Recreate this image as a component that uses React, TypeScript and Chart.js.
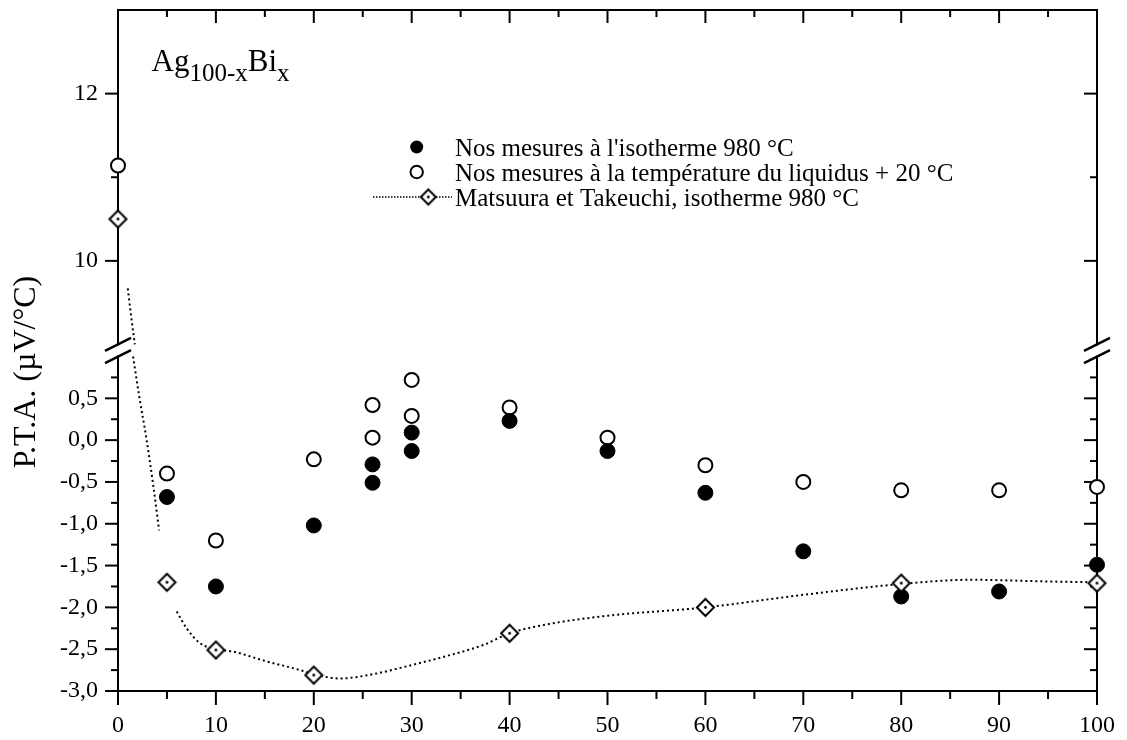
import React, { useEffect, useRef } from "react";
import { Chart, registerables } from "chart.js";

Chart.register(...registerables);

const SERIF = '"Liberation Serif", "Times New Roman", Times, serif';

// ---- axis ticks ----
const xMajorTicks = [0, 10, 20, 30, 40, 50, 60, 70, 80, 90, 100];
const xMinorTicks = [5, 15, 25, 35, 45, 55, 65, 75, 85, 95];
const yLowMajorTicks = [-3, -2.5, -2, -1.5, -1, -0.5, 0, 0.5];
const yLowMinorTicks = [-2.75, -2.25, -1.75, -1.25, -0.75, -0.25, 0.25, 0.75];
const yTopMajorTicks = [10, 12];
const yTopMinorTicks = [11];

// axis break: lower part ends at 1, upper part starts at 9
const yLowRange = [-3, 1.072];
const yTopRange = [8.928, 13];
const breakLowValue = 1;
const breakTopValue = 9;

const yTitle = "P.T.A. (µV/°C)";
const alloyMain = ["Ag", "Bi"];
const alloySub = ["100-x", "x"];

const seriesLabels = [
  "Nos mesures à l'isotherme 980 °C",
  "Nos mesures à la température du liquidus + 20 °C",
  "Matsuura et Takeuchi, isotherme 980 °C",
];

// ---- series: filled circles (isotherme 980 °C) ----
const isoX = [5, 10, 20, 26, 26, 30, 30, 40, 50, 60, 70, 80, 90, 100];
const isoY = [-0.68, -1.75, -1.02, -0.29, -0.51, 0.09, -0.13, 0.23, -0.13, -0.63, -1.33, -1.87, -1.81, -1.49];

// ---- series: open circles (liquidus + 20 °C) ----
const liqX = [5, 10, 20, 26, 26, 30, 30, 40, 50, 60, 70, 80, 90, 100];
const liqY = [-0.4, -1.2, -0.23, 0.42, 0.03, 0.72, 0.29, 0.39, 0.03, -0.3, -0.5, -0.6, -0.6, -0.56];
const liqHighX = [0];
const liqHighY = [11.14];

// ---- series: diamonds (Matsuura et Takeuchi) ----
const matX = [5, 10, 20, 40, 60, 80, 100];
const matY = [-1.7, -2.51, -2.81, -2.31, -2.0, -1.71, -1.71];
const matHighX = [0];
const matHighY = [10.5];

// ---- dotted curve (Matsuura et Takeuchi) ----
const curveHighX = [1.0, 1.35, 1.72];
const curveHighY = [9.67, 9.33, 9.0];
const curveFallX = [1.54, 2.2, 2.9, 3.6, 4.2];
const curveFallY = [1.0, 0.5, 0.02, -0.54, -1.08];
const curveMainX = [6.0, 7.0, 8.4, 10, 11.8, 15, 18.6, 20, 22.7, 26, 30, 33, 37.3, 40, 43.5, 50, 60, 70, 80, 87, 95, 100];
const curveMainY = [-2.05, -2.25, -2.43, -2.5, -2.53, -2.64, -2.75, -2.8, -2.85, -2.8, -2.69, -2.6, -2.45, -2.31, -2.21, -2.1, -2.0, -1.85, -1.72, -1.67, -1.69, -1.7];

const pts = (xs: number[], ys: number[]) => xs.map((x, i) => ({ x, y: ys[i] }));
const fmtComma = (v: number) => v.toFixed(1).replace(".", ",");

function makeDiamond(half: number, lw: number): HTMLCanvasElement {
  const size = Math.ceil(half * 2 + lw * 2 + 2);
  const c = document.createElement("canvas");
  c.width = size;
  c.height = size;
  const g = c.getContext("2d")!;
  const m = size / 2;
  g.beginPath();
  g.moveTo(m, m - half);
  g.lineTo(m + half, m);
  g.lineTo(m, m + half);
  g.lineTo(m - half, m);
  g.closePath();
  g.fillStyle = "#fff";
  g.fill();
  g.lineWidth = lw;
  g.strokeStyle = "#000";
  g.stroke();
  g.beginPath();
  g.arc(m, m, 1.4, 0, Math.PI * 2);
  g.fillStyle = "#000";
  g.fill();
  return c;
}

export default function App() {
  const ref = useRef<HTMLCanvasElement | null>(null);

  useEffect(() => {
    const canvas = ref.current;
    if (!canvas) return;
    const diamond = makeDiamond(8.5, 2);
    const legendDiamond = makeDiamond(7.5, 2);

    const framePlugin = {
      id: "frameTicks",
      beforeDatasetsDraw(chart: any) {
        const { ctx, chartArea: a, scales } = chart;
        const xs = scales.x;
        const yl = scales.yLow;
        const yt = scales.yTop;
        const gapTop = yt.getPixelForValue(breakTopValue);
        const gapBot = yl.getPixelForValue(breakLowValue);
        ctx.save();
        ctx.strokeStyle = "#000";
        ctx.lineWidth = 2;
        const seg = (x1: number, y1: number, x2: number, y2: number) => {
          ctx.beginPath();
          ctx.moveTo(x1, y1);
          ctx.lineTo(x2, y2);
          ctx.stroke();
        };
        ctx.lineCap = "square";
        seg(a.left, a.top, a.right, a.top);
        seg(a.left, a.bottom, a.right, a.bottom);
        for (const sx of [a.left, a.right]) {
          seg(sx, a.top, sx, gapTop);
          seg(sx, gapBot, sx, a.bottom);
        }
        ctx.lineCap = "butt";
        for (const v of xMajorTicks) {
          const px = xs.getPixelForValue(v);
          seg(px, a.bottom, px, a.bottom + 14);
          seg(px, a.top, px, a.top + 13);
        }
        for (const v of xMinorTicks) {
          const px = xs.getPixelForValue(v);
          seg(px, a.bottom, px, a.bottom + 8);
          seg(px, a.top, px, a.top + 7);
        }
        const yTick = (scale: any, v: number, len: number) => {
          const py = scale.getPixelForValue(v);
          seg(a.left - len, py, a.left, py);
          seg(a.right - len, py, a.right, py);
        };
        yLowMajorTicks.forEach((v) => yTick(yl, v, 13));
        yLowMinorTicks.forEach((v) => yTick(yl, v, 7));
        yTopMajorTicks.forEach((v) => yTick(yt, v, 13));
        yTopMinorTicks.forEach((v) => yTick(yt, v, 7));
        ctx.lineWidth = 2.5;
        for (const sx of [a.left, a.right]) {
          for (const py of [gapTop, gapBot]) seg(sx - 13, py + 6.5, sx + 13, py - 6.5);
        }
        ctx.restore();
      },
      afterDraw(chart: any) {
        const { ctx } = chart;
        ctx.save();
        ctx.fillStyle = "#000";
        // y title
        ctx.save();
        ctx.translate(27, 372);
        ctx.rotate(-Math.PI / 2);
        ctx.font = `32px ${SERIF}`;
        ctx.textAlign = "center";
        ctx.textBaseline = "middle";
        ctx.fillText(yTitle, 0, 0);
        ctx.restore();
        // alloy label
        ctx.textAlign = "left";
        ctx.textBaseline = "alphabetic";
        let x = 151.5;
        for (let i = 0; i < alloyMain.length; i++) {
          ctx.font = `31px ${SERIF}`;
          ctx.fillText(alloyMain[i], x, 71);
          x += ctx.measureText(alloyMain[i]).width;
          ctx.font = `25px ${SERIF}`;
          ctx.fillText(alloySub[i], x, 81);
          x += ctx.measureText(alloySub[i]).width;
        }
        // legend
        const rows = [147, 172, 197];
        ctx.font = `25px ${SERIF}`;
        seriesLabels.forEach((t, i) => ctx.fillText(t, 455, rows[i] + 8.5));
        ctx.beginPath();
        ctx.arc(416.7, rows[0], 6.5, 0, Math.PI * 2);
        ctx.fill();
        ctx.beginPath();
        ctx.arc(416.7, rows[1], 6.2, 0, Math.PI * 2);
        ctx.lineWidth = 2;
        ctx.strokeStyle = "#000";
        ctx.stroke();
        ctx.beginPath();
        ctx.setLineDash([1.5, 1.5]);
        ctx.lineWidth = 1.5;
        ctx.moveTo(373, rows[2]);
        ctx.lineTo(452, rows[2]);
        ctx.stroke();
        ctx.setLineDash([]);
        ctx.drawImage(legendDiamond, 428.3 - legendDiamond.width / 2, rows[2] - legendDiamond.height / 2);
        ctx.restore();
      },
    };

    const tickFont = { family: SERIF, size: 24 };
    const zeroPad = (s: any) => {
      s.paddingLeft = 0;
      s.paddingRight = 0;
      s.paddingTop = 0;
      s.paddingBottom = 0;
    };

    const curveStyle = {
      showLine: true,
      pointRadius: 0,
      borderColor: "#000",
      borderWidth: 2,
      borderDash: [2, 3],
      cubicInterpolationMode: "monotone" as const,
      fill: false,
      order: 5,
    };

    const chart = new Chart(canvas, {
      type: "scatter",
      data: {
        datasets: [
          { label: seriesLabels[0], data: pts(isoX, isoY), yAxisID: "yLow", clip: false, pointStyle: "circle", pointRadius: 7.5, backgroundColor: "#000", borderColor: "#000", borderWidth: 1, order: 1 },
          { label: seriesLabels[1], data: pts(liqX, liqY), yAxisID: "yLow", clip: false, pointStyle: "circle", pointRadius: 7, backgroundColor: "#fff", borderColor: "#000", borderWidth: 2, order: 1 },
          { label: seriesLabels[1], data: pts(liqHighX, liqHighY), yAxisID: "yTop", clip: false, pointStyle: "circle", pointRadius: 7, backgroundColor: "#fff", borderColor: "#000", borderWidth: 2, order: 1 },
          { label: seriesLabels[2], data: pts(matX, matY), yAxisID: "yLow", clip: false, pointStyle: diamond, pointRadius: 8, order: 0 },
          { label: seriesLabels[2], data: pts(matHighX, matHighY), yAxisID: "yTop", clip: false, pointStyle: diamond, pointRadius: 8, order: 0 },
          { label: seriesLabels[2], data: pts(curveMainX, curveMainY), yAxisID: "yLow", ...curveStyle },
          { label: seriesLabels[2], data: pts(curveFallX, curveFallY), yAxisID: "yLow", ...curveStyle },
          { label: seriesLabels[2], data: pts(curveHighX, curveHighY), yAxisID: "yTop", ...curveStyle },
        ] as any,
      },
      options: {
        responsive: false,
        animation: false,
        devicePixelRatio: 1,
        events: [],
        layout: { padding: { top: 10, right: 30, left: 0, bottom: 0 } },
        plugins: { legend: { display: false }, tooltip: { enabled: false } },
        scales: {
          x: {
            type: "linear",
            position: "bottom",
            min: 0,
            max: 100,
            afterFit: (s: any) => {
              s.height = 49;
              zeroPad(s);
            },
            afterBuildTicks: (s: any) => {
              s.ticks = xMajorTicks.map((v) => ({ value: v }));
            },
            grid: { display: false, drawTicks: false },
            border: { display: false },
            ticks: { font: tickFont, color: "#000", padding: 20, maxRotation: 0, autoSkip: false },
          },
          yLow: {
            type: "linear",
            position: "left",
            stack: "pta",
            stackWeight: 1,
            min: yLowRange[0],
            max: yLowRange[1],
            afterFit: (s: any) => {
              s.width = 118;
              zeroPad(s);
            },
            afterBuildTicks: (s: any) => {
              s.ticks = yLowMajorTicks.map((v) => ({ value: v }));
            },
            grid: { display: false, drawTicks: false },
            border: { display: false },
            ticks: { font: tickFont, color: "#000", padding: 20, autoSkip: false, callback: (v: any) => fmtComma(Number(v)) },
          },
          yTop: {
            type: "linear",
            position: "left",
            stack: "pta",
            stackWeight: 1,
            min: yTopRange[0],
            max: yTopRange[1],
            afterFit: (s: any) => {
              s.width = 118;
              zeroPad(s);
            },
            afterBuildTicks: (s: any) => {
              s.ticks = yTopMajorTicks.map((v) => ({ value: v }));
            },
            grid: { display: false, drawTicks: false },
            border: { display: false },
            ticks: { font: tickFont, color: "#000", padding: 20, autoSkip: false, callback: (v: any) => String(v) },
          },
        },
      } as any,
      plugins: [framePlugin],
    });

    return () => chart.destroy();
  }, []);

  return (
    <div style={{ position: "fixed", left: 0, top: 0, width: 1127, height: 740, background: "#fff" }}>
      <canvas ref={ref} width={1127} height={740} style={{ display: "block" }} />
    </div>
  );
}
